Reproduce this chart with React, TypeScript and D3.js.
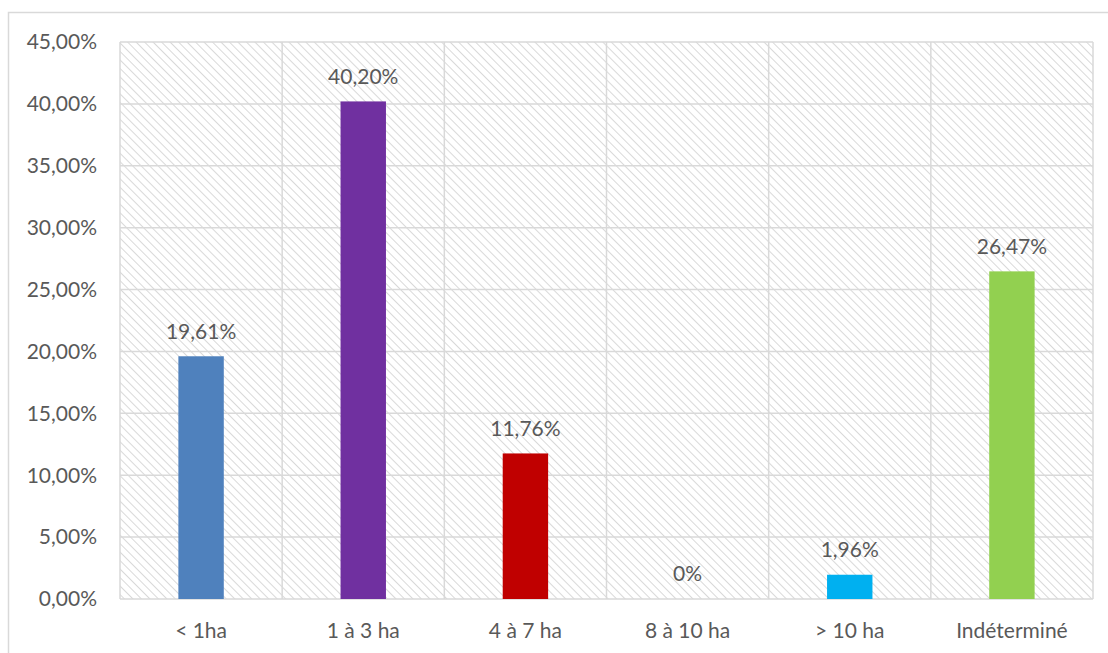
import React from "react";
import * as d3 from "d3";

const categories = ["< 1ha", "1 à 3 ha", "4 à 7 ha", "8 à 10 ha", "> 10 ha", "Indéterminé"];
const values = [19.61, 40.2, 11.76, 0, 1.96, 26.47];
const valueLabels = ["19,61%", "40,20%", "11,76%", "0%", "1,96%", "26,47%"];
const colors = ["#4F81BD", "#7030A0", "#C00000", "#7F7F7F", "#00B0F0", "#92D050"];
const yTicks = [0, 5, 10, 15, 20, 25, 30, 35, 40, 45];

const W = 1108;
const H = 653;
const plot = { left: 120, top: 42, right: 1093, bottom: 599 };
const FONT = "Lato, 'Open Sans', sans-serif";
const FS = 21;
const TXT = "#595959";

export default function App() {
  const x = d3.scaleBand<string>().domain(categories).range([plot.left, plot.right]).paddingInner(0).paddingOuter(0);
  const y = d3.scaleLinear().domain([0, 45]).range([plot.bottom, plot.top]);
  const bw = x.bandwidth() * 0.28;
  const fmt = (v: number) => d3.format(".2f")(v).replace(".", ",") + "%";

  return (
    <svg width={W} height={H} style={{ position: "absolute", left: 0, top: 0 }}>
      <defs>
        <pattern id="hatch" patternUnits="userSpaceOnUse" width="6" height="6" patternTransform="rotate(-45)">
          <rect width="6" height="6" fill="#ffffff" />
          <line x1="0" y1="0" x2="0" y2="6" stroke="#d9d9d9" strokeWidth="2" />
        </pattern>
      </defs>
      <rect x={0} y={0} width={W} height={H} fill="#fff" />
      <rect x={8.5} y={12.5} width={W + 10} height={H + 10} fill="#fff" stroke="#d9d9d9" strokeWidth={1.5} />
      <rect x={plot.left} y={plot.top} width={plot.right - plot.left} height={plot.bottom - plot.top} fill="url(#hatch)" />
      {yTicks.map((t) => (
        <line key={"g" + t} x1={plot.left} x2={plot.right} y1={y(t)} y2={y(t)} stroke="#d9d9d9" strokeWidth={1.5} />
      ))}
      {categories.map((c) => (
        <line key={"v" + c} x1={x(c)!} x2={x(c)!} y1={plot.top} y2={plot.bottom} stroke="#d9d9d9" strokeWidth={1.5} />
      ))}
      <line x1={plot.right} x2={plot.right} y1={plot.top} y2={plot.bottom} stroke="#d9d9d9" strokeWidth={1.5} />
      {yTicks.map((t) => (
        <text key={"t" + t} x={97} y={y(t)} dy="0.35em" textAnchor="end" fontFamily={FONT} fontSize={FS} fill={TXT}>
          {fmt(t)}
        </text>
      ))}
      {categories.map((c, i) => {
        const cx = x(c)! + x.bandwidth() / 2;
        return (
          <g key={c}>
            {values[i] > 0 && (
              <rect x={cx - bw / 2} y={y(values[i])} width={bw} height={plot.bottom - y(values[i])} fill={colors[i]} />
            )}
            <text x={cx} y={y(values[i]) - 25} dy="0.35em" textAnchor="middle" fontFamily={FONT} fontSize={FS} fill={TXT}>
              {valueLabels[i]}
            </text>
            <text x={cx} y={631} dy="0.35em" textAnchor="middle" fontFamily={FONT} fontSize={FS} fill={TXT}>
              {c}
            </text>
          </g>
        );
      })}
    </svg>
  );
}
